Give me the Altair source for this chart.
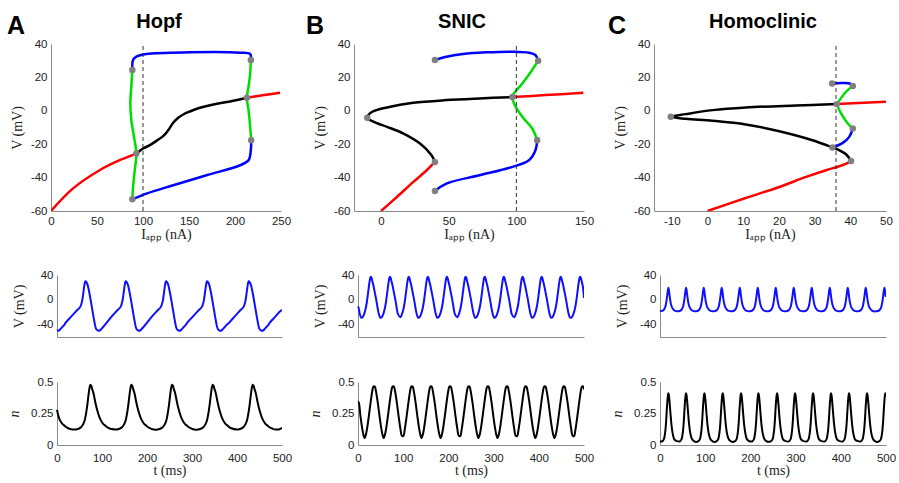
import altair as alt
import pandas as pd

# ---------------------------------------------------------------
# Bifurcation branches, each a list of (I_app [nA], V [mV]) points
# ---------------------------------------------------------------
# A: Hopf
A_rest_stable_lo = [(0, -60), (23.7, -46.6), (52.8, -35.6), (74.6, -29.6), (92.8, -25.6)]
A_rest_unstable = [(92.8, -25.6), (100.1, -22.6), (107.4, -20.6), (114.6, -18), (121.9, -15.2),
                   (127.4, -11.6), (132.8, -7.2), (138.3, -4.2), (143.7, -2.2), (151, -0.4),
                   (161.9, 1.8), (176.5, 3.8), (194.7, 5.6), (212.9, 7.8)]
A_rest_stable_hi = [(212.9, 7.8), (230, 9.3), (249, 10.8)]
A_cycle_stable_max = [(88.4, 24.4), (89.2, 30.4), (92.8, 32.4), (103.7, 34), (151, 35),
                      (205.6, 34.8), (216.5, 34), (217.2, 30.4)]
A_cycle_stable_min = [(88.4, -53), (103.7, -49.6), (132.8, -44.6), (169, -38.6), (205.6, -32.6),
                      (214.7, -29.6), (217.2, -23.6), (217.6, -17.6)]
A_cycle_unstable_l = [(88.4, 24.4), (87.3, 14.4), (86.2, 4.4), (87.3, -5.6), (90.2, -15.6),
                      (92.8, -25.6), (91, -35.6), (89.2, -45.6), (88.4, -53)]
A_cycle_unstable_r = [(217.2, 30.4), (216.5, 22.4), (214.7, 14.4), (212.9, 7.8), (214.7, 0.4),
                      (216.5, -9.6), (217.6, -17.6)]
A_special = [(88.4, 24.4), (92.8, -25.6), (88.4, -53), (217.2, 30.4), (212.9, 7.8), (217.6, -17.6)]
A_marker = 100

# B: SNIC
B_rest_stable_lo = [(0, -60), (11.7, -51.6), (23.9, -42.6), (33.7, -35.6), (39.8, -30.6)]
B_rest_unstable = [(39.8, -30.6), (37.3, -26.6), (28.8, -19.6), (16.6, -13.6), (4.4, -9.6),
                   (-5.4, -6.6), (-10.2, -4.2), (-6.5, -0.6), (6.8, 2.4), (23.9, 4.8),
                   (48.3, 6.4), (72.7, 7.4), (97.1, 8.2)]
B_rest_stable_hi = [(97.1, 8.2), (121.5, 9.4), (149.5, 10.8)]
B_cycle_stable_max = [(39.8, 30.4), (48.3, 32.4), (60.5, 34), (77.6, 35), (97.1, 35.4),
                      (109.3, 34.8), (114.1, 33.4), (116.1, 30)]
B_cycle_unstable = [(116.1, 30), (111.7, 24.4), (104.4, 16.4), (98.3, 10.4), (97.1, 8.2),
                    (98.3, 4.4), (104.4, -3.6), (111.7, -10.6), (115.4, -17.6)]
B_cycle_stable_min = [(115.4, -17.6), (114.1, -23.6), (109.3, -29.6), (97.1, -33.6),
                      (72.7, -38.6), (48.3, -43.6), (39.8, -48)]
B_special = [(39.8, 30.4), (116.1, 30), (97.1, 8.2), (115.4, -17.6), (39.8, -30.6),
             (-10.2, -4.2), (39.8, -48)]
B_marker = 100

# C: Homoclinic
C_rest_stable_lo = [(0, -60), (10.7, -52.2), (20.1, -45.6), (27.6, -39.6), (33.2, -35.6),
                    (36.9, -33.2), (39.3, -31.2), (40.2, -30)]
C_rest_unstable = [(40.2, -30), (38.8, -26), (36.9, -23.6), (35, -22), (29.4, -17.6),
                   (20.1, -12.2), (10.7, -8.2), (1.4, -6), (-6.1, -4.8), (-10.3, -3.6),
                   (-6.1, -2), (1.4, 0.4), (10.7, 2), (24.8, 3.2), (36.2, 4)]
C_rest_stable_hi = [(36.2, 4), (50, 5.4)]
C_cycle_unstable_up = [(36.2, 4), (38.8, 11.4), (40.7, 14.8)]
C_cycle_stable_up = [(34.9, 16.4), (38, 16.6), (40, 16.2), (40.7, 14.8)]
C_cycle_unstable_dn = [(36.2, 4), (37.4, -1.6), (39.3, -7.6), (40.7, -10.6)]
C_cycle_stable_dn = [(40.7, -10.6), (39.7, -15.6), (37.9, -19.2), (35, -22)]
C_special = [(34.9, 16.4), (40.7, 14.8), (36.2, 4), (40.7, -10.6), (35, -22), (40.2, -30),
             (-10.3, -3.6)]
C_marker = 36

# ---------------------------------------------------------------
# Time courses: one spike shape (ms from peak, value), peak times,
# and the values at the two ends of the 0-500 ms window
# ---------------------------------------------------------------
A_V_shape = [(-45, -38), (-30, -26), (-20, -18), (-11, -11), (-7, -1), (-4, 14), (-2, 24),
             (0, 30), (2, 29), (5, 24), (10, 7), (15, -14), (20, -35), (24, -47), (28, -49.5),
             (31, -50), (35, -47.5), (40, -43.5), (45, -39.5)]
A_V_peaks = [-27.7, 63, 152.6, 242.2, 333.3, 425.9, 516.6]
A_V_ends = (-49.6, -17)
A_n_shape = [(-45, 0.127), (-32, 0.123), (-21, 0.14), (-16, 0.165), (-13, 0.19), (-10, 0.24),
             (-7, 0.31), (-4, 0.4), (-2, 0.45), (0, 0.478), (2, 0.47), (4, 0.445), (7, 0.41),
             (11, 0.34), (15, 0.28), (22, 0.205), (28, 0.17), (33, 0.154), (40, 0.135), (45, 0.128)]
A_n_peaks = [-16.6, 74.1, 165.2, 255.6, 345.9, 434.8, 525]
A_n_ends = (0.28, 0.136)

B_V_shape = [(-21, -29), (-18, -28), (-15, -24), (-12, -17), (-9, -6), (-6, 10), (-3, 27),
             (-1, 35), (0, 37), (1.5, 36), (3, 32), (6, 23), (9, 12), (12, 1), (15, -12),
             (18, -23), (21, -29)]
B_V_peaks = [-14, 28.1, 70.4, 111.9, 154.1, 196.3, 237.8, 280, 322.2, 363.7, 405.9, 448.1,
             491.1, 533]
B_V_ends = (-13, 3)
B_n_shape = [(-21, 0.056), (-19, 0.07), (-16, 0.12), (-12, 0.22), (-8, 0.33), (-4, 0.43),
             (-2, 0.46), (0, 0.467), (2, 0.46), (4, 0.43), (8, 0.34), (12, 0.23), (16, 0.13),
             (19, 0.075), (21, 0.056)]
B_n_peaks = [-6.6, 35.6, 77.8, 119.3, 161.5, 203.7, 245.2, 287.4, 329.6, 371.1, 413.3, 455.6,
             497, 539]
B_n_ends = (0.34, 0.44)

C_V_shape = [(-20, -18.5), (-14, -18), (-10, -16), (-7, -12), (-5, -6), (-3, 4), (-1, 15),
             (0, 19.5), (1, 17), (3, 6), (5, -4), (7, -10), (10, -14.5), (14, -17.5), (20, -18.7)]
C_V_peaks = [-21.4, 18.4, 57.5, 96.6, 136.4, 176.3, 216.1, 255.9, 295.7, 335.5, 375.4, 415.2,
             455, 496.3, 536]
C_V_ends = (-17, 5)
C_n_shape = [(-20, 0.025), (-14, 0.028), (-10, 0.045), (-7, 0.1), (-5, 0.18), (-3, 0.3),
             (-1, 0.39), (0, 0.41), (1, 0.4), (3, 0.33), (5, 0.24), (7, 0.16), (10, 0.085),
             (14, 0.042), (20, 0.026)]
C_n_peaks = [-21.4, 18.4, 57.5, 98.1, 138.6, 179.2, 217.6, 258.9, 298.7, 338.5, 378.3, 418.1,
             458, 498.5, 538]
C_n_ends = (0.03, 0.38)

# ---------------------------------------------------------------
KINDS = ["stable rest", "unstable rest", "stable cycle", "unstable cycle"]
KIND_COLORS = ["#ff0000", "#000000", "#0000ff", "#00dd00"]

LABEL_FONT = "Liberation Sans"
TITLE_FONT = "Liberation Serif"
H_TOP, H_MID, H_BOT = 167, 62, 63
T_END = 500


def branches_frame(branches):
    rows = []
    for seg, (kind, pts) in enumerate(branches):
        for k, (i, v) in enumerate(pts):
            rows.append({"I": i, "V": v, "kind": kind, "seg": seg, "ord": k})
    return pd.DataFrame(rows)


def spike_train(peaks, shape, ends):
    mids = [(a + b) / 2 for a, b in zip(peaks[:-1], peaks[1:])]
    lows = [-1e9] + mids
    highs = mids + [1e9]
    rows = [{"t": 0.0, "y": ends[0]}]
    for tp, lo, hi in zip(peaks, lows, highs):
        for dt, val in shape:
            t = tp + dt
            if lo <= t < hi and 0 < t < T_END:
                rows.append({"t": t, "y": val})
    rows.append({"t": float(T_END), "y": ends[1]})
    return pd.DataFrame(rows).sort_values("t")


LABELS = "'' + datum.value"


def bif_panel(branches, special, marker, i_domain, i_ticks, letter, name, letter_dx, width):
    df = branches_frame(branches)
    v_ticks = [-60, -40, -20, 0, 20, 40]
    x_scale = alt.Scale(domain=i_domain, nice=False, zero=False)
    x_enc = alt.X("I:Q", scale=x_scale,
                  axis=alt.Axis(values=i_ticks, tickCount=len(i_ticks), title="Iₐₚₚ (nA)",
                                labelExpr=LABELS, labelPadding=4, titlePadding=0.5))
    y_enc = alt.Y("V:Q", scale=alt.Scale(domain=[-60, 40], nice=False),
                  axis=alt.Axis(values=v_ticks, tickCount=len(v_ticks), title="V (mV)",
                                labelExpr=LABELS, labelPadding=4, titlePadding=6))
    lines = alt.Chart(df).mark_line(strokeWidth=2.5, interpolate="catmull-rom", clip=True).encode(
        x=x_enc, y=y_enc,
        color=alt.Color("kind:N", scale=alt.Scale(domain=KINDS, range=KIND_COLORS), legend=None),
        detail="seg:N", order="ord:Q")
    dash = alt.Chart(pd.DataFrame({"I": [marker, marker], "V": [-60, 40]})).mark_line(
        strokeDash=[4, 3], strokeWidth=1, color="#333333").encode(x="I:Q", y="V:Q")
    pts = alt.Chart(pd.DataFrame(special, columns=["I", "V"])).mark_circle(
        size=42, color="#808080", opacity=1).encode(x="I:Q", y="V:Q")
    # heading sits a little left of the panel centre
    d0, d1 = i_domain
    head_I = d0 + (width / 2 - 7) * (d1 - d0) / width
    one = pd.DataFrame({"letter": [letter], "name": [name], "I": [head_I]})
    tag = alt.Chart(one).mark_text(align="left", baseline="alphabetic", fontSize=25,
                                   fontWeight="bold", font=LABEL_FONT, color="#000").encode(
        x=alt.value(letter_dx), y=alt.value(-10), text="letter:N")
    head = alt.Chart(one).mark_text(align="center", baseline="alphabetic", fontSize=20,
                                    fontWeight="bold", font=LABEL_FONT, color="#000").encode(
        x=alt.X("I:Q", scale=x_scale), y=alt.value(-16), text="name:N")
    return alt.layer(lines, dash, pts, tag, head).properties(width=width, height=H_TOP)


def trace_panel(df, dom, ticks, title, color, bottom, width, inset, title_pad):
    # the time axis starts `inset` px to the right of the panel above it
    t_values = [0, 100, 200, 300, 400, 500]
    x_axis = alt.Axis(values=t_values, tickCount=6, title="t (ms)", labelExpr=LABELS,
                      labelPadding=7, titlePadding=0) if bottom \
        else alt.Axis(values=t_values, labels=False, title=None)
    line = alt.Chart(df).mark_line(strokeWidth=2, color=color, clip=True,
                                   interpolate="catmull-rom").encode(
        x=alt.X("t:Q", scale=alt.Scale(domain=[0, T_END], range=[inset, width], nice=False),
                axis=x_axis),
        y=alt.Y("y:Q", scale=alt.Scale(domain=dom, nice=False),
                axis=alt.Axis(values=ticks, tickCount=len(ticks), title=title, labelExpr=LABELS,
                              offset=-inset, labelPadding=4, titlePadding=title_pad,
                              titleFontStyle="italic" if title == "n" else "normal")))
    h = H_BOT if bottom else H_MID
    return line.properties(width=width, height=h)


def column(top, v_df, n_df, width, inset):
    mid = trace_panel(v_df, [-60, 40], [-40, 0, 40], "V (mV)", "#1010ff", False, width, inset, 10)
    bot = trace_panel(n_df, [0, 0.5], [0, 0.25, 0.5], "n", "#000000", True, width, inset, 9)
    return alt.vconcat(top, alt.vconcat(mid, bot, spacing=39), spacing=28)


top_A = bif_panel([("stable rest", A_rest_stable_lo), ("unstable rest", A_rest_unstable),
                   ("stable rest", A_rest_stable_hi), ("stable cycle", A_cycle_stable_max),
                   ("stable cycle", A_cycle_stable_min), ("unstable cycle", A_cycle_unstable_l),
                   ("unstable cycle", A_cycle_unstable_r)],
                  A_special, A_marker, [0, 250], [0, 50, 100, 150, 200, 250], "A", "Hopf", -44, 230)
top_B = bif_panel([("stable rest", B_rest_stable_lo), ("unstable rest", B_rest_unstable),
                   ("stable rest", B_rest_stable_hi), ("stable cycle", B_cycle_stable_max),
                   ("unstable cycle", B_cycle_unstable), ("stable cycle", B_cycle_stable_min)],
                  B_special, B_marker, [-20, 150], [0, 50, 100, 150], "B", "SNIC", -48, 230)
top_C = bif_panel([("stable rest", C_rest_stable_lo), ("unstable rest", C_rest_unstable),
                   ("stable rest", C_rest_stable_hi), ("unstable cycle", C_cycle_unstable_up),
                   ("stable cycle", C_cycle_stable_up), ("unstable cycle", C_cycle_unstable_dn),
                   ("stable cycle", C_cycle_stable_dn)],
                  C_special, C_marker, [-15, 50], [-10, 0, 10, 20, 30, 40, 50], "C", "Homoclinic",
                  -46, 232)

col_A = column(top_A, spike_train(A_V_peaks, A_V_shape, A_V_ends),
               spike_train(A_n_peaks, A_n_shape, A_n_ends), 231, 6)
col_B = column(top_B, spike_train(B_V_peaks, B_V_shape, B_V_ends),
               spike_train(B_n_peaks, B_n_shape, B_n_ends), 230, 4)
col_C = column(top_C, spike_train(C_V_peaks, C_V_shape, C_V_ends),
               spike_train(C_n_peaks, C_n_shape, C_n_ends), 232, 6)

chart = alt.hconcat(col_A, col_B, col_C, spacing=14).properties(
    padding={"left": 7, "top": 12, "right": 0, "bottom": 0},
    background="white",
).configure_view(stroke=None).configure_axis(
    domainColor="#8a8a8a", domainWidth=1, ticks=False, grid=False,
    labelOverlap=False, labelFlush=False, labelBound=False,
    labelFont=LABEL_FONT, labelFontSize=11.5, labelColor="#222222",
    titleFont=TITLE_FONT, titleFontSize=14, titleFontWeight="normal", titleColor="#222222",
)

chart.save("out.html", embed_options={"renderer": "svg", "actions": False})
